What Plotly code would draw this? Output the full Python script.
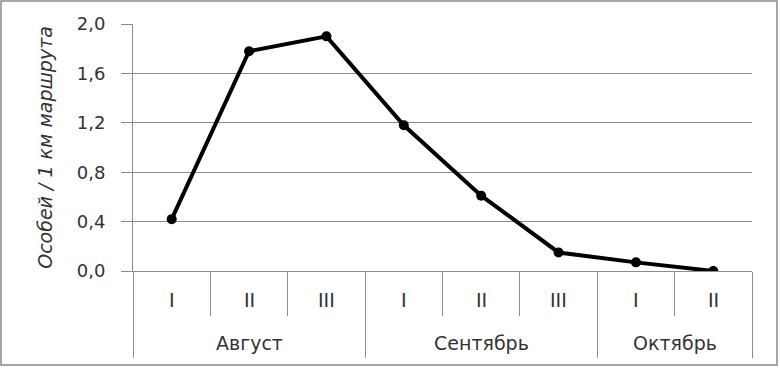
import plotly.graph_objects as go

months = ["Август", "Сентябрь", "Октябрь"]
decades = ["I", "II", "III", "I", "II", "III", "I", "II"]
month_of_point = ["Август", "Август", "Август", "Сентябрь", "Сентябрь", "Сентябрь", "Октябрь", "Октябрь"]
values = [0.42, 1.78, 1.90, 1.18, 0.61, 0.15, 0.07, 0.0]
y_ticks = [0.0, 0.4, 0.8, 1.2, 1.6, 2.0]

W, H = 780, 369
ML, MR, MT, MB = 133, 28, 24, 98
PW, PH = W - ML - MR, H - MT - MB

FONT = "DejaVu Sans"
GRID = "#8c8c8c"
TXT = "#333333"

xs = list(range(len(values)))

# boundaries
decade_bounds = [i + 0.5 for i in range(len(values) - 1)]
month_bounds = [-0.5]
for i in range(1, len(values)):
    if month_of_point[i] != month_of_point[i - 1]:
        month_bounds.append(i - 0.5)
month_bounds.append(len(values) - 0.5)

fig = go.Figure()
fig.add_trace(go.Scatter(
    x=xs, y=values, mode="lines+markers",
    line=dict(color="black", width=4),
    marker=dict(color="black", size=10),
    showlegend=False, hoverinfo="skip",
))

annotations = []
for i, d in enumerate(decades):
    annotations.append(dict(x=i, y=0, xref="x", yref="paper", text=d, showarrow=False,
                            yanchor="middle", yshift=-29,
                            font=dict(family=FONT, size=19, color=TXT)))
for m in months:
    idx = [i for i, mm in enumerate(month_of_point) if mm == m]
    cx = (idx[0] + idx[-1]) / 2
    annotations.append(dict(x=cx, y=0, xref="x", yref="paper", text=m, showarrow=False,
                            yanchor="middle", yshift=-72,
                            font=dict(family=FONT, size=19, color=TXT)))

fig.update_layout(
    width=W, height=H,
    margin=dict(l=ML, r=MR, t=MT, b=MB, pad=0),
    paper_bgcolor="white", plot_bgcolor="white",
    separators=", ",
    annotations=annotations,
    shapes=[dict(type="rect", xref="paper", yref="paper",
                 x0=(1 - ML) / PW, x1=(W - 3 - ML) / PW,
                 y0=(MT + PH - (H - 4)) / PH, y1=(MT + PH - 1) / PH,
                 line=dict(color="#8a8a8a", width=1.5), layer="below")],
    xaxis=dict(
        range=[-0.5, len(values) - 0.5],
        tickmode="array", tickvals=month_bounds, showticklabels=False,
        ticks="outside", ticklen=86, tickwidth=1, tickcolor=GRID,
        minor=dict(tickmode="array", tickvals=decade_bounds, ticks="outside",
                   ticklen=44, tickwidth=1, tickcolor=GRID, showgrid=False),
        showgrid=False, zeroline=False,
        showline=True, linecolor=GRID, linewidth=1,
    ),
    yaxis=dict(
        range=[0, 2.0], tickmode="array", tickvals=y_ticks, tickformat=".1f",
        ticks="outside", ticklen=11, tickcolor=GRID, tickwidth=1,
        showgrid=True, gridcolor=GRID, gridwidth=1, zeroline=False,
        showline=True, linecolor=GRID, linewidth=1,
        ticklabelstandoff=12,
        tickfont=dict(family=FONT, size=18, color=TXT),
        title=dict(text="<i>Особей / 1 км маршрута</i>", standoff=19,
                   font=dict(family=FONT, size=19, color=TXT)),
    ),
)

fig.write_html("out.html", config={"displayModeBar": False},
               post_script="document.body.style.margin='0';document.body.style.overflow='hidden';")
